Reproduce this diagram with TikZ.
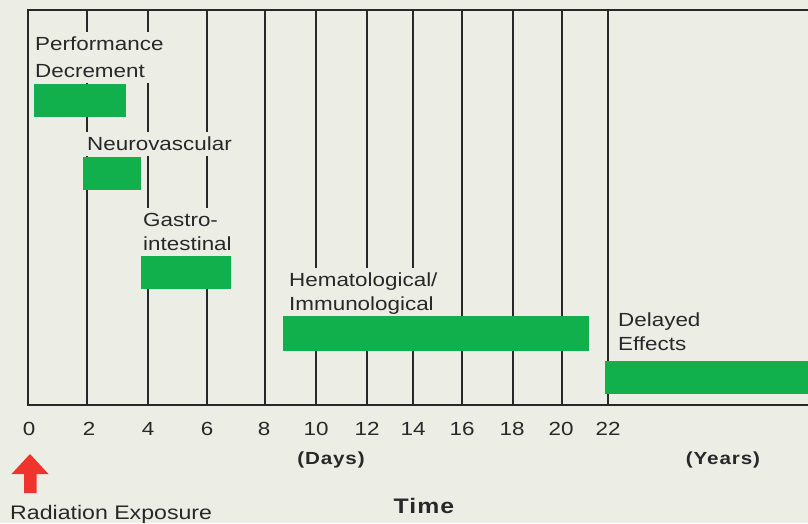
\documentclass[tikz,border=0pt]{standalone}
\usepackage{fontspec}
\newfontfamily\lab[FakeStretch=1.18]{Liberation Sans}
\newfontfamily\labsp[FakeStretch=1.18,LetterSpace=5]{Liberation Sans}
\definecolor{bgc}{RGB}{236,238,230}
\definecolor{barc}{RGB}{18,176,76}
\definecolor{linec}{RGB}{40,40,40}
\definecolor{redc}{RGB}{240,52,45}
\tikzset{
  gridline/.style={draw=linec, line width=1.4pt},
  barbox/.style={fill=barc, inner sep=0pt, anchor=north west},
  lbl/.style={fill=bgc, inner xsep=3pt, inner ysep=5pt, anchor=north west, align=left, text=linec,
     font={\lab\fontsize{19}{24}\selectfont}},
  tick/.style={anchor=base, inner sep=0pt, text=linec, font={\lab\fontsize{19}{24}\selectfont}},
  unit/.style={anchor=base, inner sep=0pt, text=linec, font={\labsp\bfseries\fontsize{17.5}{22}\selectfont}},
}
\begin{document}
\begin{tikzpicture}[x=1pt,y=-1pt]
\useasboundingbox (0,0) rectangle (808,523);
\fill[bgc] (0,0) rectangle (808,523);
% frame and grid
\draw[gridline] (808,10) -- (28,10) -- (28,405) -- (808,405);
\foreach \gx in {87,148,207,265,316,367,413,462,513,562,608}
  \draw[gridline] (\gx,10) -- (\gx,405);
% labels (knock out the grid lines)
\node[lbl, font={\lab\fontsize{19}{26.5}\selectfont}] (tperf) at (32,32) {Performance\\Decrement};
\node[lbl] (tneuro) at (84,132) {Neurovascular};
\node[lbl] (tgastro) at (140,208) {Gastro-\\intestinal};
\node[lbl] (themat) at (286,268) {Hematological/\\Immunological};
\node[lbl] (tdelay) at (615,308) {Delayed\\Effects};
% bars
\node[barbox, minimum width=92pt, minimum height=33pt] (perf) at (34,84) {};
\node[barbox, minimum width=58pt, minimum height=33pt] (neuro) at (83,157) {};
\node[barbox, minimum width=90pt, minimum height=33pt] (gastro) at (141,256) {};
\node[barbox, minimum width=306pt, minimum height=35pt] (hemat) at (283,316) {};
\node[barbox, minimum width=203pt, minimum height=33pt] (delay) at (605,361) {};
% tick labels
\node[tick] (n0) at (29,435) {0};
\node[tick] (n2) at (89,435) {2};
\node[tick] (n4) at (148,435) {4};
\node[tick] (n6) at (207,435) {6};
\node[tick] (n8) at (264,435) {8};
\node[tick] (n10) at (316,435) {10};
\node[tick] (n12) at (367,435) {12};
\node[tick] (n14) at (413,435) {14};
\node[tick] (n16) at (462,435) {16};
\node[tick] (n18) at (512,435) {18};
\node[tick] (n20) at (561,435) {20};
\node[tick] (n22) at (608,435) {22};
\node[unit] (days) at (331,464) {(Days)};
\node[unit] (years) at (723,464) {(Years)};
\node[unit, font={\labsp\bfseries\fontsize{21}{24}\selectfont}] (time) at (424,513) {Time};
% radiation exposure
\fill[redc] (30,454) -- (48.5,474) -- (36.5,474) -- (36.5,493) -- (24,493) -- (24,474) -- (11.5,474) -- cycle;
\node[tick, anchor=base west, font={\lab\fontsize{19.6}{24}\selectfont}] (rad) at (10,519) {Radiation Exposure};
\end{tikzpicture}
\end{document}
